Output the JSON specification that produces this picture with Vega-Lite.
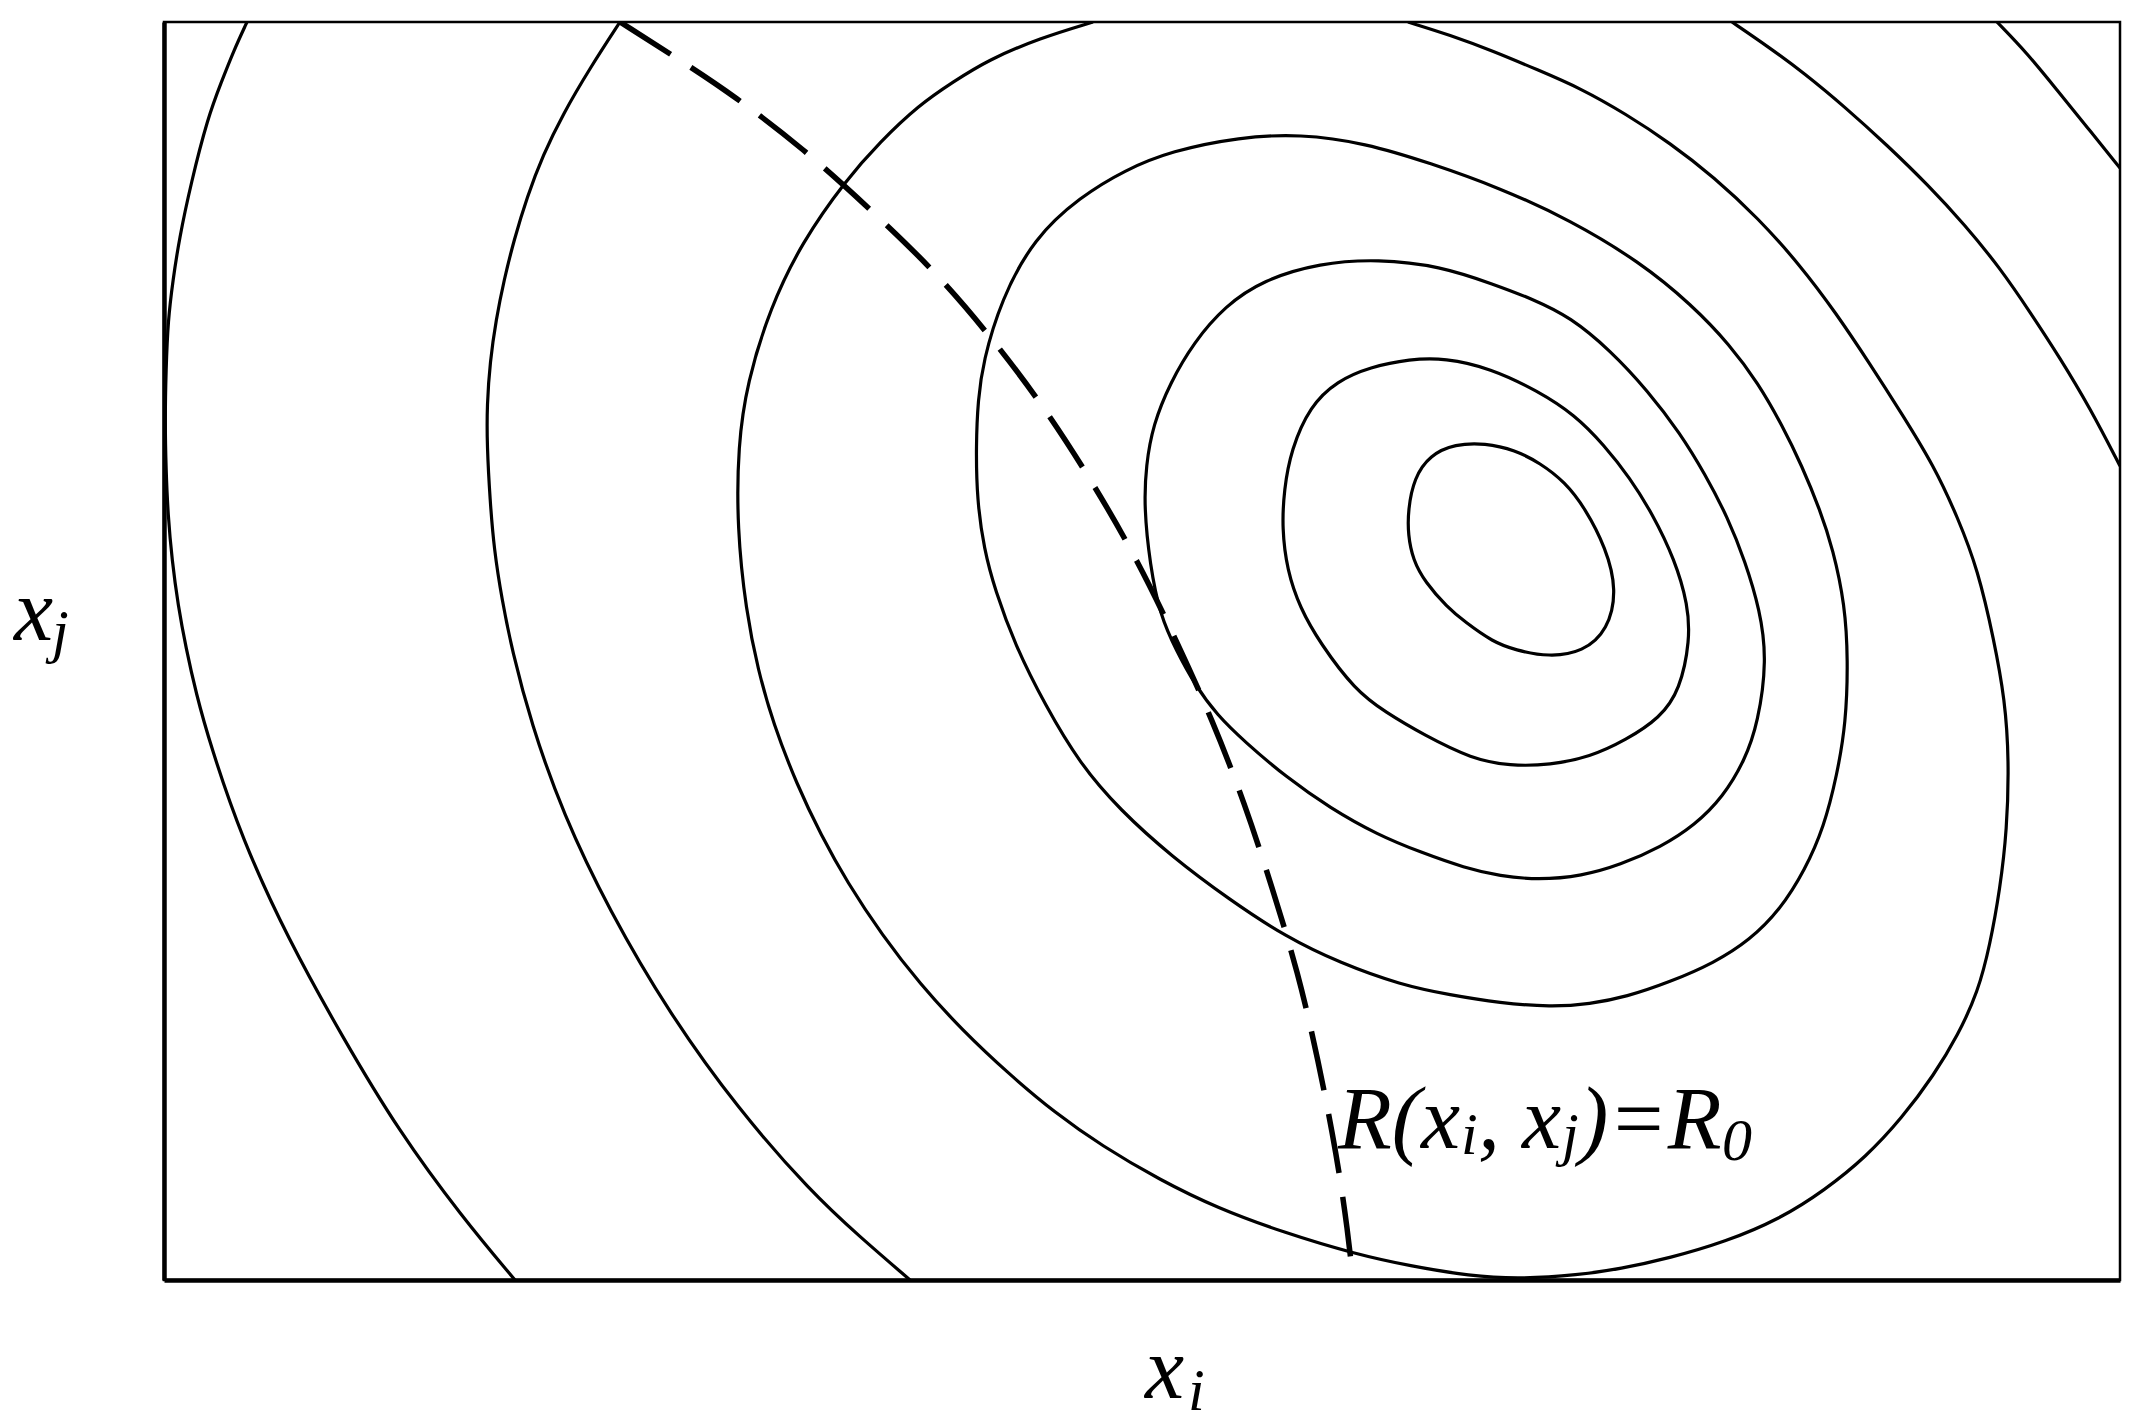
{
  "$schema": "https://vega.github.io/schema/vega-lite/v6.json",
  "width": 1956,
  "height": 1258,
  "autosize": {"type": "none"},
  "padding": {"left": 164, "top": 22, "right": 23, "bottom": 148},
  "background": "white",
  "config": {
    "view": {"stroke": "black", "strokeWidth": 2.5},
    "axis": {"domainColor": "black", "domainWidth": 4.5, "ticks": false, "labels": false, "grid": false}
  },
  "datasets": {
    "closed": [
      {"c":1,"o":1,"x":124.4,"y":77.0},{"c":1,"o":2,"x":125.0,"y":80.2},{"c":1,"o":3,"x":126.6,"y":82.5},{"c":1,"o":4,"x":129.1,"y":83.6},{"c":1,"o":5,"x":132.1,"y":83.7},{"c":1,"o":6,"x":135.1,"y":83.0},{"c":1,"o":7,"x":137.6,"y":81.7},{"c":1,"o":8,"x":140.1,"y":79.8},{"c":1,"o":9,"x":142.1,"y":77.2},{"c":1,"o":10,"x":144.2,"y":73.2},{"c":1,"o":11,"x":145.3,"y":69.0},{"c":1,"o":12,"x":144.4,"y":65.0},{"c":1,"o":13,"x":141.9,"y":62.8},{"c":1,"o":14,"x":138.5,"y":62.3},{"c":1,"o":15,"x":135.1,"y":63.0},{"c":1,"o":16,"x":132.9,"y":63.8},{"c":1,"o":17,"x":130.1,"y":65.8},{"c":1,"o":18,"x":128.3,"y":67.3},{"c":1,"o":19,"x":126.1,"y":69.8},{"c":1,"o":20,"x":124.9,"y":72.0},{"c":1,"o":21,"x":124.4,"y":74.5},
      {"c":2,"o":1,"x":111.8,"y":75.2},{"c":2,"o":2,"x":112.0,"y":79.0},{"c":2,"o":3,"x":112.7,"y":83.0},{"c":2,"o":4,"x":114.6,"y":87.4},{"c":2,"o":5,"x":117.3,"y":89.9},{"c":2,"o":6,"x":120.6,"y":91.3},{"c":2,"o":7,"x":124.6,"y":92.1},{"c":2,"o":8,"x":128.1,"y":92.2},{"c":2,"o":9,"x":132.6,"y":91.2},{"c":2,"o":10,"x":137.4,"y":88.9},{"c":2,"o":11,"x":141.1,"y":86.5},{"c":2,"o":12,"x":144.0,"y":83.5},{"c":2,"o":13,"x":146.6,"y":80.2},{"c":2,"o":14,"x":148.8,"y":76.7},{"c":2,"o":15,"x":151.1,"y":72.0},{"c":2,"o":16,"x":152.4,"y":67.5},{"c":2,"o":17,"x":152.6,"y":64.0},{"c":2,"o":18,"x":151.6,"y":59.0},{"c":2,"o":19,"x":149.6,"y":56.2},{"c":2,"o":20,"x":146.2,"y":54.0},{"c":2,"o":21,"x":142.6,"y":52.3},{"c":2,"o":22,"x":138.6,"y":51.5},{"c":2,"o":23,"x":134.6,"y":51.4},{"c":2,"o":24,"x":130.8,"y":52.1},{"c":2,"o":25,"x":126.0,"y":54.5},{"c":2,"o":26,"x":122.1,"y":56.8},{"c":2,"o":27,"x":119.1,"y":59.0},{"c":2,"o":28,"x":115.6,"y":63.7},{"c":2,"o":29,"x":113.6,"y":67.2},{"c":2,"o":30,"x":112.3,"y":71.0},
      {"c":3,"o":1,"x":98.0,"y":77.3},{"c":3,"o":2,"x":98.2,"y":81.5},{"c":3,"o":3,"x":98.9,"y":85.5},{"c":3,"o":4,"x":100.6,"y":89.7},{"c":3,"o":5,"x":103.0,"y":93.8},{"c":3,"o":6,"x":106.1,"y":97.4},{"c":3,"o":7,"x":109.9,"y":100.0},{"c":3,"o":8,"x":115.6,"y":101.7},{"c":3,"o":9,"x":121.4,"y":102.1},{"c":3,"o":10,"x":127.6,"y":101.4},{"c":3,"o":11,"x":132.9,"y":99.6},{"c":3,"o":12,"x":137.1,"y":98.0},{"c":3,"o":13,"x":140.6,"y":96.3},{"c":3,"o":14,"x":144.6,"y":93.0},{"c":3,"o":15,"x":148.4,"y":88.9},{"c":3,"o":16,"x":151.6,"y":84.7},{"c":3,"o":17,"x":154.1,"y":80.6},{"c":3,"o":18,"x":156.4,"y":76.2},{"c":3,"o":19,"x":158.1,"y":71.9},{"c":3,"o":20,"x":159.6,"y":67.0},{"c":3,"o":21,"x":160.3,"y":62.0},{"c":3,"o":22,"x":159.4,"y":55.7},{"c":3,"o":23,"x":158.1,"y":52.0},{"c":3,"o":24,"x":155.9,"y":48.3},{"c":3,"o":25,"x":153.1,"y":45.5},{"c":3,"o":26,"x":149.7,"y":43.3},{"c":3,"o":27,"x":145.6,"y":41.5},{"c":3,"o":28,"x":141.8,"y":40.4},{"c":3,"o":29,"x":137.4,"y":40.0},{"c":3,"o":30,"x":133.6,"y":40.4},{"c":3,"o":31,"x":130.1,"y":41.2},{"c":3,"o":32,"x":125.6,"y":42.8},{"c":3,"o":33,"x":121.4,"y":44.5},{"c":3,"o":34,"x":116.6,"y":47.2},{"c":3,"o":35,"x":112.2,"y":50.3},{"c":3,"o":36,"x":108.1,"y":53.8},{"c":3,"o":37,"x":105.3,"y":56.5},{"c":3,"o":38,"x":103.1,"y":59.5},{"c":3,"o":39,"x":101.2,"y":63.0},{"c":3,"o":40,"x":99.6,"y":66.5},{"c":3,"o":41,"x":98.6,"y":71.5},
      {"c":4,"o":1,"x":81.2,"y":83.5},{"c":4,"o":2,"x":81.4,"y":88.0},{"c":4,"o":3,"x":81.9,"y":91.8},{"c":4,"o":4,"x":83.7,"y":98.0},{"c":4,"o":5,"x":87.0,"y":104.2},{"c":4,"o":6,"x":91.6,"y":108.3},{"c":4,"o":7,"x":96.1,"y":111.0},{"c":4,"o":8,"x":100.7,"y":112.9},{"c":4,"o":9,"x":107.6,"y":114.3},{"c":4,"o":10,"x":113.6,"y":114.6},{"c":4,"o":11,"x":120.1,"y":113.7},{"c":4,"o":12,"x":126.6,"y":111.7},{"c":4,"o":13,"x":133.6,"y":109.2},{"c":4,"o":14,"x":140.6,"y":106.0},{"c":4,"o":15,"x":147.6,"y":101.8},{"c":4,"o":16,"x":152.8,"y":97.5},{"c":4,"o":17,"x":156.6,"y":93.5},{"c":4,"o":18,"x":159.4,"y":89.7},{"c":4,"o":19,"x":161.8,"y":85.5},{"c":4,"o":20,"x":163.8,"y":81.4},{"c":4,"o":21,"x":165.6,"y":77.0},{"c":4,"o":22,"x":166.9,"y":73.1},{"c":4,"o":23,"x":168.1,"y":67.5},{"c":4,"o":24,"x":168.4,"y":62.0},{"c":4,"o":25,"x":168.2,"y":55.7},{"c":4,"o":26,"x":167.3,"y":50.5},{"c":4,"o":27,"x":166.0,"y":45.3},{"c":4,"o":28,"x":164.1,"y":41.0},{"c":4,"o":29,"x":161.6,"y":37.0},{"c":4,"o":30,"x":158.6,"y":34.0},{"c":4,"o":31,"x":155.0,"y":31.7},{"c":4,"o":32,"x":150.6,"y":29.8},{"c":4,"o":33,"x":146.2,"y":28.3},{"c":4,"o":34,"x":142.6,"y":27.6},{"c":4,"o":35,"x":138.7,"y":27.3},{"c":4,"o":36,"x":133.6,"y":27.7},{"c":4,"o":37,"x":128.6,"y":28.5},{"c":4,"o":38,"x":123.7,"y":29.5},{"c":4,"o":39,"x":117.6,"y":31.7},{"c":4,"o":40,"x":112.2,"y":34.3},{"c":4,"o":41,"x":106.6,"y":38.0},{"c":4,"o":42,"x":100.7,"y":42.4},{"c":4,"o":43,"x":95.6,"y":47.0},{"c":4,"o":44,"x":91.6,"y":51.6},{"c":4,"o":45,"x":88.1,"y":57.5},{"c":4,"o":46,"x":85.1,"y":63.5},{"c":4,"o":47,"x":83.1,"y":69.0},{"c":4,"o":48,"x":82.0,"y":73.1},{"c":4,"o":49,"x":81.3,"y":78.0}
    ],
    "open": [
      {"c":5,"o":1,"x":124.4,"y":125.8},{"c":5,"o":2,"x":128.6,"y":124.5},{"c":5,"o":3,"x":132.9,"y":122.9},{"c":5,"o":4,"x":137.4,"y":121.0},{"c":5,"o":5,"x":141.6,"y":119.2},{"c":5,"o":6,"x":146.2,"y":116.6},{"c":5,"o":7,"x":150.6,"y":113.7},{"c":5,"o":8,"x":155.0,"y":110.3},{"c":5,"o":9,"x":159.4,"y":106.2},{"c":5,"o":10,"x":163.6,"y":101.5},{"c":5,"o":11,"x":167.2,"y":96.7},{"c":5,"o":12,"x":170.6,"y":91.6},{"c":5,"o":13,"x":173.8,"y":86.6},{"c":5,"o":14,"x":177.0,"y":81.4},{"c":5,"o":15,"x":179.4,"y":76.2},{"c":5,"o":16,"x":181.4,"y":71.0},{"c":5,"o":17,"x":183.0,"y":64.0},{"c":5,"o":18,"x":184.1,"y":58.0},{"c":5,"o":19,"x":184.5,"y":52.0},{"c":5,"o":20,"x":184.3,"y":45.0},{"c":5,"o":21,"x":183.6,"y":39.1},{"c":5,"o":22,"x":182.6,"y":33.5},{"c":5,"o":23,"x":181.4,"y":28.8},{"c":5,"o":24,"x":179.4,"y":24.5},{"c":5,"o":25,"x":177.0,"y":20.5},{"c":5,"o":26,"x":173.8,"y":16.2},{"c":5,"o":27,"x":170.2,"y":12.3},{"c":5,"o":28,"x":166.1,"y":9.0},{"c":5,"o":29,"x":161.6,"y":6.1},{"c":5,"o":30,"x":156.1,"y":3.8},{"c":5,"o":31,"x":150.6,"y":2.2},{"c":5,"o":32,"x":145.6,"y":1.1},{"c":5,"o":33,"x":141.4,"y":0.5},{"c":5,"o":34,"x":135.6,"y":0.1},{"c":5,"o":35,"x":130.6,"y":0.4},{"c":5,"o":36,"x":124.6,"y":1.4},{"c":5,"o":37,"x":119.1,"y":2.6},{"c":5,"o":38,"x":112.1,"y":4.7},{"c":5,"o":39,"x":105.3,"y":7.2},{"c":5,"o":40,"x":99.6,"y":10.0},{"c":5,"o":41,"x":93.8,"y":13.4},{"c":5,"o":42,"x":89.0,"y":16.8},{"c":5,"o":43,"x":84.6,"y":20.5},{"c":5,"o":44,"x":79.8,"y":25.0},{"c":5,"o":45,"x":75.6,"y":29.6},{"c":5,"o":46,"x":71.8,"y":34.5},{"c":5,"o":47,"x":68.3,"y":39.8},{"c":5,"o":48,"x":65.7,"y":44.5},{"c":5,"o":49,"x":63.3,"y":49.5},{"c":5,"o":50,"x":60.9,"y":55.7},{"c":5,"o":51,"x":59.4,"y":61.0},{"c":5,"o":52,"x":58.2,"y":66.9},{"c":5,"o":53,"x":57.3,"y":75.2},{"c":5,"o":54,"x":57.4,"y":83.5},{"c":5,"o":55,"x":58.3,"y":89.7},{"c":5,"o":56,"x":60.6,"y":97.2},{"c":5,"o":57,"x":63.8,"y":103.8},{"c":5,"o":58,"x":68.2,"y":110.0},{"c":5,"o":59,"x":71.6,"y":113.8},{"c":5,"o":60,"x":75.5,"y":117.5},{"c":5,"o":61,"x":78.9,"y":119.8},{"c":5,"o":62,"x":82.4,"y":122.0},{"c":5,"o":63,"x":87.6,"y":124.2},{"c":5,"o":64,"x":92.9,"y":125.8},
      {"c":6,"o":1,"x":45.6,"y":125.8},{"c":6,"o":2,"x":42.6,"y":121.2},{"c":6,"o":3,"x":39.9,"y":116.6},{"c":6,"o":4,"x":37.9,"y":112.5},{"c":6,"o":5,"x":36.3,"y":108.3},{"c":6,"o":6,"x":35.0,"y":104.0},{"c":6,"o":7,"x":34.0,"y":100.0},{"c":6,"o":8,"x":33.2,"y":96.0},{"c":6,"o":9,"x":32.6,"y":91.8},{"c":6,"o":10,"x":32.3,"y":87.5},{"c":6,"o":11,"x":32.3,"y":83.5},{"c":6,"o":12,"x":32.6,"y":78.0},{"c":6,"o":13,"x":33.0,"y":73.1},{"c":6,"o":14,"x":33.8,"y":68.0},{"c":6,"o":15,"x":34.8,"y":63.0},{"c":6,"o":16,"x":36.7,"y":55.7},{"c":6,"o":17,"x":39.9,"y":46.6},{"c":6,"o":18,"x":44.5,"y":37.0},{"c":6,"o":19,"x":50.5,"y":26.7},{"c":6,"o":20,"x":57.4,"y":17.1},{"c":6,"o":21,"x":64.7,"y":8.8},{"c":6,"o":22,"x":69.6,"y":4.3},{"c":6,"o":23,"x":74.6,"y":0.0},
      {"c":7,"o":1,"x":156.8,"y":125.8},{"c":7,"o":2,"x":160.6,"y":123.2},{"c":7,"o":3,"x":164.0,"y":120.7},{"c":7,"o":4,"x":168.1,"y":117.3},{"c":7,"o":5,"x":172.4,"y":113.4},{"c":7,"o":6,"x":176.4,"y":109.5},{"c":7,"o":7,"x":180.1,"y":105.5},{"c":7,"o":8,"x":183.6,"y":101.2},{"c":7,"o":9,"x":186.6,"y":96.8},{"c":7,"o":10,"x":189.6,"y":92.2},{"c":7,"o":11,"x":192.6,"y":87.2},{"c":7,"o":12,"x":195.6,"y":81.4},
      {"c":8,"o":1,"x":8.3,"y":125.8},{"c":8,"o":2,"x":7.0,"y":123.0},{"c":8,"o":3,"x":5.7,"y":119.7},{"c":8,"o":4,"x":4.4,"y":116.3},{"c":8,"o":5,"x":2.7,"y":109.7},{"c":8,"o":6,"x":1.5,"y":104.0},{"c":8,"o":7,"x":0.9,"y":100.0},{"c":8,"o":8,"x":0.4,"y":96.0},{"c":8,"o":9,"x":0.2,"y":91.0},{"c":8,"o":10,"x":0.1,"y":86.0},{"c":8,"o":11,"x":0.2,"y":81.0},{"c":8,"o":12,"x":0.4,"y":76.5},{"c":8,"o":13,"x":0.8,"y":72.0},{"c":8,"o":14,"x":1.4,"y":67.5},{"c":8,"o":15,"x":2.2,"y":63.2},{"c":8,"o":16,"x":3.2,"y":58.7},{"c":8,"o":17,"x":4.6,"y":53.6},{"c":8,"o":18,"x":7.8,"y":44.1},{"c":8,"o":19,"x":12.4,"y":34.1},{"c":8,"o":20,"x":17.9,"y":24.2},{"c":8,"o":21,"x":23.4,"y":15.0},{"c":8,"o":22,"x":29.8,"y":6.3},{"c":8,"o":23,"x":35.1,"y":0.0},
      {"c":9,"o":1,"x":183.3,"y":125.8},{"c":9,"o":2,"x":186.3,"y":122.7},{"c":9,"o":3,"x":189.3,"y":119.0},{"c":9,"o":4,"x":192.3,"y":115.3},{"c":9,"o":5,"x":195.6,"y":111.2}
    ],
    "dash": [
      {"o":1,"x":45.6,"y":125.8},{"o":2,"x":51.9,"y":121.8},{"o":3,"x":56.9,"y":118.5},{"o":4,"x":64.0,"y":113.1},{"o":5,"x":70.6,"y":107.1},{"o":6,"x":77.1,"y":100.9},{"o":7,"x":82.8,"y":94.2},{"o":8,"x":88.1,"y":87.2},{"o":9,"x":92.9,"y":79.7},{"o":10,"x":97.3,"y":72.1},{"o":11,"x":101.4,"y":63.6},{"o":12,"x":104.8,"y":56.1},{"o":13,"x":108.1,"y":47.6},{"o":14,"x":110.8,"y":39.3},{"o":15,"x":113.4,"y":30.8},{"o":16,"x":115.4,"y":22.1},{"o":17,"x":117.3,"y":12.4},{"o":18,"x":118.4,"y":4.7},{"o":19,"x":118.9,"y":0.0}
    ],
    "main": [
      {"t":"R(x","x":117.4,"y":13.2},
      {"t":", x","x":131.4,"y":13.2},
      {"t":")=R","x":141.5,"y":13.2},
      {"t":"x","x":-15.0,"y":64.0},
      {"t":"x","x":98.1,"y":-11.8}
    ],
    "subs": [
      {"t":"i","x":129.7,"y":12.6},
      {"t":"j","x":139.8,"y":12.6},
      {"t":"0","x":155.8,"y":12.0},
      {"t":"j","x":-11.2,"y":62.9},
      {"t":"i","x":102.4,"y":-13.0}
    ]
  },
  "encoding": {
    "x": {"field": "x", "type": "quantitative", "scale": {"domain": [0, 195.6], "nice": false, "zero": false}, "axis": {"title": null, "orient": "bottom"}},
    "y": {"field": "y", "type": "quantitative", "scale": {"domain": [0, 125.8], "nice": false, "zero": false}, "axis": {"title": null, "orient": "left"}}
  },
  "layer": [
    {
      "data": {"name": "closed"},
      "mark": {"type": "line", "interpolate": "basis-closed", "color": "black", "strokeWidth": 3.2, "clip": true},
      "encoding": {"detail": {"field": "c", "type": "nominal"}, "order": {"field": "o", "type": "quantitative"}}
    },
    {
      "data": {"name": "open"},
      "mark": {"type": "line", "interpolate": "basis", "color": "black", "strokeWidth": 3.2, "clip": true},
      "encoding": {"detail": {"field": "c", "type": "nominal"}, "order": {"field": "o", "type": "quantitative"}}
    },
    {
      "data": {"name": "dash"},
      "mark": {"type": "line", "interpolate": "basis", "color": "black", "strokeWidth": 5.5, "strokeDash": [60, 24], "strokeCap": "butt", "clip": true},
      "encoding": {"order": {"field": "o", "type": "quantitative"}}
    },
    {
      "data": {"name": "main"},
      "mark": {"type": "text", "font": "'Liberation Serif', 'Times New Roman', 'DejaVu Serif', serif", "fontStyle": "italic", "fontSize": 88, "align": "left", "baseline": "alphabetic", "color": "black"},
      "encoding": {"text": {"field": "t"}}
    },
    {
      "data": {"name": "subs"},
      "mark": {"type": "text", "font": "'Liberation Serif', 'Times New Roman', 'DejaVu Serif', serif", "fontStyle": "italic", "fontSize": 60, "align": "left", "baseline": "alphabetic", "color": "black"},
      "encoding": {"text": {"field": "t"}}
    }
  ]
}
